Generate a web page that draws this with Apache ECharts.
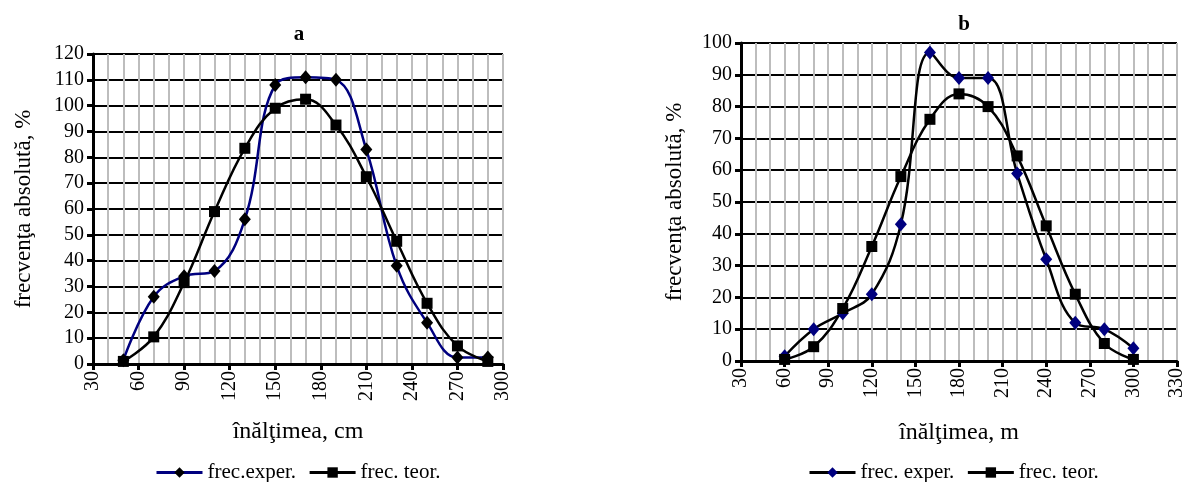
<!DOCTYPE html>
<html>
<head>
<meta charset="utf-8">
<script src="https://cdn.jsdelivr.net/npm/echarts@6/dist/echarts.min.js"></script>
<style>
  html, body { margin: 0; padding: 0; background: #fff; }
  #chart { width: 1187px; height: 482px; }
</style>
</head>
<body>
<div id="chart"></div>
<script>
// chart a (cm)
var xA = [50, 70, 90, 110, 130, 150, 170, 190, 210, 230, 250, 270, 290];
var experA = [1.5, 26, 34, 36, 56, 108, 111, 110, 83, 38, 16, 2.5, 2.5];
var teorA = [1, 10.5, 31.5, 59, 83.5, 99, 102.5, 92.5, 72.5, 47.5, 23.5, 7, 1];
// chart b (m)
var xB = [60, 80, 100, 120, 140, 160, 180, 200, 220, 240, 260, 280, 300];
var experB = [1.5, 10, 15, 21, 43, 97, 89, 89, 59, 32, 12, 10, 4];
var teorB = [0.5, 4.5, 16.5, 36, 58, 76, 84, 80, 64.5, 42.5, 21, 5.5, 0.5];

function pairs(xs, ys) {
  var out = [];
  for (var i = 0; i < xs.length; i++) {
    out.push([xs[i], ys[i]]);
  }
  return out;
}

var serif = 'Liberation Serif';
var navy = '#00007f';

function xAxisOf(idx, min, max, name, gap) {
  return {
    type: 'value', gridIndex: idx, min: min, max: max, interval: 30,
    name: name, nameLocation: 'middle', nameGap: gap,
    nameTextStyle: { fontFamily: serif, fontSize: 24, color: '#000' },
    axisLine: { lineStyle: { color: '#000', width: 3 } },
    axisTick: { inside: false, length: 6, lineStyle: { color: '#000', width: 3 } },
    axisLabel: { rotate: 90, fontFamily: serif, fontSize: 20, color: '#000', margin: 7 },
    splitLine: { show: true, lineStyle: { color: '#bdbdbd', width: 2 } },
    minorTick: { show: false, splitNumber: 3 },
    minorSplitLine: { show: true, lineStyle: { color: '#bdbdbd', width: 2 } }
  };
}

function yAxisOf(idx, max, gap) {
  return {
    type: 'value', gridIndex: idx, min: 0, max: max, interval: 10,
    name: 'frecvenţa absolută, %', nameLocation: 'middle', nameGap: gap,
    nameTextStyle: { fontFamily: serif, fontSize: 23, color: '#000' },
    axisLine: { show: true, lineStyle: { color: '#000', width: 3 } },
    axisTick: { show: true, length: 6, lineStyle: { color: '#000', width: 3 } },
    axisLabel: { fontFamily: serif, fontSize: 20, color: '#000', margin: 9 },
    splitLine: { show: true, lineStyle: { color: '#000', width: 2 } }
  };
}

// second chart's teor series gets an internal suffix so both legends can list it
function legendName(n) {
  return n.replace(/ #b$/, '');
}

var chart = echarts.init(document.getElementById('chart'));
var option = {
  backgroundColor: '#fff',
  animation: false,
  title: [
    { text: 'a', left: 294, top: 19, textAlign: 'center',
      textStyle: { fontFamily: serif, fontSize: 21, fontWeight: 'bold', color: '#000' } },
    { text: 'b', left: 959, top: 9, textAlign: 'center',
      textStyle: { fontFamily: serif, fontSize: 21, fontWeight: 'bold', color: '#000' } }
  ],
  legend: [
    { left: 150, top: 457, itemWidth: 46, itemHeight: 13, itemGap: 12,
      data: ['frec.exper.', 'frec. teor.'], formatter: legendName,
      lineStyle: { width: 3 },
      textStyle: { fontFamily: serif, fontSize: 21, color: '#000' } },
    { left: 803, top: 457, itemWidth: 46, itemHeight: 13, itemGap: 12,
      data: ['frec. exper.', 'frec. teor. #b'], formatter: legendName,
      lineStyle: { width: 3 },
      textStyle: { fontFamily: serif, fontSize: 21, color: '#000' } }
  ],
  grid: [
    { left: 93, right: 684, top: 54, bottom: 118 },
    { left: 741, right: 9, top: 43, bottom: 121 }
  ],
  xAxis: [
    xAxisOf(0, 30, 300, 'înălţimea, cm', 56),
    xAxisOf(1, 30, 330, 'înălţimea, m', 60)
  ],
  yAxis: [
    yAxisOf(0, 120, 58),
    yAxisOf(1, 100, 55)
  ],
  series: [
    { name: 'frec.exper.', type: 'line', xAxisIndex: 0, yAxisIndex: 0,
      data: pairs(xA, experA), smooth: 0.4,
      symbol: 'diamond', symbolSize: [12, 14],
      lineStyle: { color: navy, width: 2.5 }, itemStyle: { color: '#000' } },
    { name: 'frec. teor.', type: 'line', xAxisIndex: 0, yAxisIndex: 0,
      data: pairs(xA, teorA), smooth: 0.4,
      symbol: 'rect', symbolSize: 11,
      lineStyle: { color: '#000', width: 2.5 }, itemStyle: { color: '#000' } },
    { name: 'frec. exper.', type: 'line', xAxisIndex: 1, yAxisIndex: 1,
      data: pairs(xB, experB), smooth: 0.4,
      symbol: 'diamond', symbolSize: [12, 14],
      lineStyle: { color: '#000', width: 2.5 }, itemStyle: { color: navy } },
    { name: 'frec. teor. #b', type: 'line', xAxisIndex: 1, yAxisIndex: 1,
      data: pairs(xB, teorB), smooth: 0.4,
      symbol: 'rect', symbolSize: 11,
      lineStyle: { color: '#000', width: 2.5 }, itemStyle: { color: '#000' } }
  ]
};
chart.setOption(option);
</script>
</body>
</html>
